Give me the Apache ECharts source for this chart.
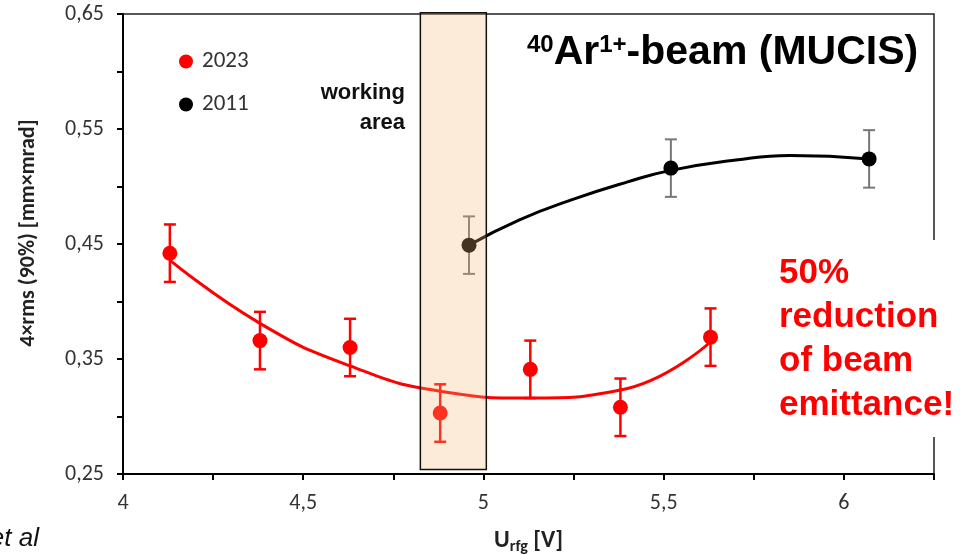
<!DOCTYPE html>
<html>
<head>
  <meta charset="UTF-8">
  <title>Ar beam emittance</title>
  <style>
    html, body { margin: 0; padding: 0; background: #fff; }
    #chart { width: 973px; height: 555px; }
  </style>
  <script src="https://cdn.jsdelivr.net/npm/echarts@6/dist/echarts.min.js"></script>
</head>
<body>
  <div id="chart"></div>
  <script>
    var x2023 = [4.13, 4.38, 4.63, 4.88, 5.13, 5.38, 5.63];
    var y2023 = [0.442, 0.366, 0.360, 0.303, 0.341, 0.308, 0.369];
    var err2023 = [0.025, 0.025, 0.025, 0.025, 0.025, 0.025, 0.025];

    var x2011 = [4.96, 5.52, 6.07];
    var y2011 = [0.449, 0.516, 0.524];
    var err2011 = [0.025, 0.025, 0.025];

    // trend lines
    var fitX2023 = [4.13, 4.38, 4.63, 4.88, 5.13, 5.38, 5.63];
    var fitY2023 = [0.436, 0.381, 0.344, 0.322, 0.316, 0.323, 0.365];
    var fitX2011 = [4.96, 5.10, 5.25, 5.40, 5.52, 5.70, 5.85, 6.07];
    var fitY2011 = [0.449, 0.471, 0.489, 0.504, 0.514, 0.523, 0.527, 0.524];

    // working area band [x0, x1, y0, y1]
    var workArea = [4.825, 5.008, 0.254, 0.651];

    var tickFont = "Carlito, 'Liberation Sans Narrow', 'DejaVu Sans Condensed', sans-serif";
    var arial = '"Liberation Sans", Arial, sans-serif';

    function pairs(xs, ys) {
      return xs.map(function (x, i) { return [x, ys[i]]; });
    }
    function errRows(xs, ys, es) {
      return xs.map(function (x, i) { return [x, ys[i] - es[i], ys[i] + es[i]]; });
    }
    function errorBars(color, width) {
      return function (params, api) {
        var x = api.value(0);
        var lo = api.coord([x, api.value(1)]);
        var hi = api.coord([x, api.value(2)]);
        var w = 6;
        var st = { stroke: color, lineWidth: width };
        return {
          type: 'group',
          children: [
            { type: 'line', shape: { x1: hi[0], y1: hi[1], x2: lo[0], y2: lo[1] }, style: st },
            { type: 'line', shape: { x1: hi[0] - w, y1: hi[1], x2: hi[0] + w, y2: hi[1] }, style: st },
            { type: 'line', shape: { x1: lo[0] - w, y1: lo[1], x2: lo[0] + w, y2: lo[1] }, style: st }
          ]
        };
      };
    }

    var myChart = echarts.init(document.getElementById('chart'));

    var option = {
      animation: false,
      grid: {
        left: 123, right: 39, top: 14, bottom: 81,
        outerBoundsMode: 'none',
        containLabel: false,
        show: true, borderColor: '#222', borderWidth: 1.5
      },
      legend: {
        data: ['2023', '2011'],
        orient: 'vertical',
        left: 179, top: 50,
        padding: 0,
        itemGap: 20,
        itemWidth: 14, itemHeight: 14,
        icon: 'circle',
        textStyle: { fontSize: 23, color: '#333', fontFamily: tickFont, padding: [0, 0, 0, 4] }
      },
      xAxis: {
        type: 'value',
        min: 4, max: 6.25, interval: 0.25,
        splitLine: { show: false },
        axisLine: { lineStyle: { color: '#000', width: 2 } },
        axisTick: { length: 6, lineStyle: { color: '#000', width: 2 } },
        axisLabel: {
          margin: 18, fontSize: 22, color: '#333', fontFamily: tickFont,
          formatter: function (v) {
            var k = Math.round((v - 4) / 0.25);
            if (k % 2 !== 0 || v > 6.01) return '';
            return String(Math.round(v * 10) / 10).replace('.', ',');
          }
        },
        name: '{b|U}{s|rfg}{b| [V]}',
        nameLocation: 'middle',
        nameGap: 53,
        nameTextStyle: {
          rich: {
            b: { fontSize: 24, fontWeight: 'bold', color: '#222', fontFamily: tickFont },
            s: { fontSize: 16, fontWeight: 'bold', color: '#222', fontFamily: tickFont, padding: [12, 0, 0, 0] }
          }
        }
      },
      yAxis: {
        type: 'value',
        min: 0.25, max: 0.65, interval: 0.05,
        splitLine: { show: false },
        axisLine: { lineStyle: { color: '#000', width: 2 } },
        axisTick: { length: 6, lineStyle: { color: '#000', width: 2 } },
        axisLabel: {
          margin: 19, fontSize: 22, color: '#333', fontFamily: tickFont,
          formatter: function (v) {
            var k = Math.round((v - 0.25) / 0.05);
            if (k % 2 !== 0) return '';
            return v.toFixed(2).replace('.', ',');
          }
        },
        name: '4×rms (90%) [mm×mrad]',
        nameLocation: 'middle',
        nameGap: 84,
        nameTextStyle: { fontSize: 22, fontWeight: 'bold', color: '#222', fontFamily: tickFont, padding: [0, 0, 0, 22] }
      },
      series: [
        {
          name: '2023 fit', type: 'line', data: pairs(fitX2023, fitY2023),
          smooth: 0.5, showSymbol: false, silent: true,
          lineStyle: { color: '#ff0000', width: 3 }, z: 2
        },
        {
          name: '2011 fit', type: 'line', data: pairs(fitX2011, fitY2011),
          smooth: 0.5, showSymbol: false, silent: true,
          lineStyle: { color: '#000', width: 3 }, z: 2
        },
        {
          name: '2023 err', type: 'custom', renderItem: errorBars('#ff0000', 2.5),
          data: errRows(x2023, y2023, err2023), z: 3
        },
        {
          name: '2011 err', type: 'custom', renderItem: errorBars('#777', 2),
          data: errRows(x2011, y2011, err2011), z: 3
        },
        {
          name: '2023', type: 'scatter', data: pairs(x2023, y2023),
          symbolSize: 15, itemStyle: { color: '#ff0000', opacity: 1 }, z: 4
        },
        {
          name: '2011', type: 'scatter', data: pairs(x2011, y2011),
          symbolSize: 15, itemStyle: { color: '#000', opacity: 1 }, z: 4
        },
        {
          name: 'working area', type: 'custom', silent: true, z: 6,
          data: [workArea],
          renderItem: function (params, api) {
            var a = api.coord([api.value(0), api.value(3)]);
            var b = api.coord([api.value(1), api.value(2)]);
            return {
              type: 'rect',
              shape: { x: a[0], y: a[1], width: b[0] - a[0], height: b[1] - a[1] },
              style: { fill: 'rgba(248,182,117,0.28)', stroke: '#111', lineWidth: 1.5 }
            };
          }
        }
      ],
      graphic: [
        {
          type: 'text', z: 50,
          style: { text: 'working\narea', x: 405, y: 78, align: 'right', font: 'bold 22px ' + arial, fill: '#111', lineHeight: 30 }
        },
        {
          type: 'text', z: 50,
          style: {
            x: 527, y: 32,
            text: '{s|40}{b|Ar}{s|1+}{b|-beam (MUCIS)}',
            rich: {
              b: { font: 'bold 41px ' + arial, fill: '#000' },
              s: { font: 'bold 24px ' + arial, fill: '#000', padding: [0, 0, 15, 0] }
            }
          }
        },
        {
          type: 'rect', z: 40,
          shape: { x: 765, y: 240, width: 208, height: 197 },
          style: { fill: '#fff' }
        },
        {
          type: 'text', z: 50,
          style: {
            x: 779, y: 251,
            text: '50%\nreduction\nof beam\nemittance!',
            font: 'bold 35px ' + arial, fill: '#ff0000', lineHeight: 44
          }
        },
        {
          type: 'text', z: 50,
          style: { x: 39, y: 526, align: 'right', text: 'et al', font: 'italic 26px ' + arial, fill: '#111' }
        }
      ]
    };

    myChart.setOption(option);
  </script>
</body>
</html>
